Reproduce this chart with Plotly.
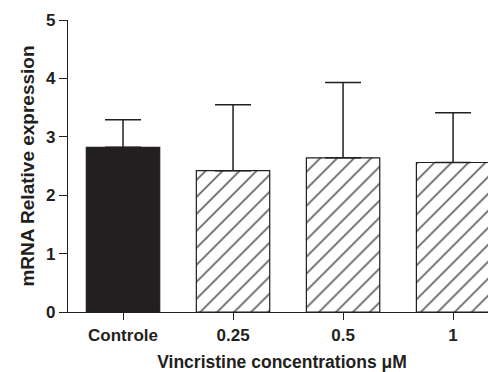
import plotly.graph_objects as go

categories = ["Controle", "0.25", "0.5", "1"]
means = [2.82, 2.42, 2.64, 2.56]
upper_err = [0.47, 1.13, 1.29, 0.85]
y_ticks = [0, 1, 2, 3, 4, 5]

ink = "#231f20"
fig = go.Figure()
fig.add_trace(go.Bar(
    x=list(range(len(categories))),
    y=means,
    width=0.667,
    marker=dict(
        color=[ink, "white", "white", "white"],
        line=dict(color=ink, width=1.2),
        pattern=dict(shape=["", "/", "/", "/"], fgcolor="#000000", bgcolor="white",
                     fgopacity=1, size=12, solidity=0.12, fillmode="overlay"),
    ),
    error_y=dict(type="data", array=upper_err, arrayminus=[0, 0, 0, 0],
                 symmetric=False, color=ink, thickness=1.5, width=18),
    showlegend=False,
))

font_family = "Liberation Sans, Arial, sans-serif"
# page body has an 8px default margin, so the figure is sized to fit inside it
fig.update_layout(
    width=488, height=364,
    margin=dict(l=60, r=0, t=12, b=60),
    paper_bgcolor="white", plot_bgcolor="white",
    font=dict(family=font_family, color=ink),
    bargap=0.333,
)
fig.update_xaxes(
    range=[-0.5, 3.39],
    tickmode="array", tickvals=list(range(len(categories))), ticktext=categories,
    tickfont=dict(size=17, family=font_family, weight="bold", color=ink),
    ticks="outside", ticklen=7, tickcolor=ink, tickwidth=1.2,
    showline=True, linecolor=ink, linewidth=1.2,
    showgrid=False, zeroline=False,
    title=dict(text="<b>Vincristine concentrations μM</b>",
               font=dict(size=17.5, family=font_family, color=ink), standoff=14),
)
fig.update_yaxes(
    range=[0, 5],
    tickmode="array", tickvals=y_ticks,
    tickfont=dict(size=17, family=font_family, weight="bold", color=ink),
    ticks="outside", ticklen=8, tickcolor=ink, tickwidth=1.2,
    showline=True, linecolor=ink, linewidth=1.2,
    showgrid=False, zeroline=False,
    title=dict(text="<b>mRNA Relative expression</b>",
               font=dict(size=19, family=font_family, color=ink), standoff=6),
)

fig.write_html("out.html")
